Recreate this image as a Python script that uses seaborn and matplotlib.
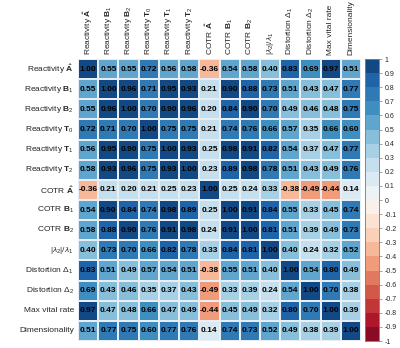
import numpy as np
import pandas as pd
import matplotlib
matplotlib.use("Agg")
import matplotlib.pyplot as plt
import seaborn as sns
from matplotlib.colors import ListedColormap

labels = [
    r"Reactivity $\mathbf{\hat{A}}$",
    r"Reactivity $\mathbf{B}_1$",
    r"Reactivity $\mathbf{B}_2$",
    r"Reactivity $\mathbf{T}_0$",
    r"Reactivity $\mathbf{T}_1$",
    r"Reactivity $\mathbf{T}_2$",
    r"COTR $\mathbf{\hat{A}}$",
    r"COTR $\mathbf{B}_1$",
    r"COTR $\mathbf{B}_2$",
    r"$|\lambda_2|/\lambda_1$",
    r"Distortion $\Delta_1$",
    r"Distortion $\Delta_2$",
    "Max vital rate",
    "Dimensionality",
]

r_A   = [1.00, 0.55, 0.55, 0.72, 0.56, 0.58, -0.36, 0.54, 0.58, 0.40, 0.83, 0.69, 0.97, 0.51]
r_B1  = [0.55, 1.00, 0.96, 0.71, 0.95, 0.93, 0.21, 0.90, 0.88, 0.73, 0.51, 0.43, 0.47, 0.77]
r_B2  = [0.55, 0.96, 1.00, 0.70, 0.90, 0.96, 0.20, 0.84, 0.90, 0.70, 0.49, 0.46, 0.48, 0.75]
r_T0  = [0.72, 0.71, 0.70, 1.00, 0.75, 0.75, 0.21, 0.74, 0.76, 0.66, 0.57, 0.35, 0.66, 0.60]
r_T1  = [0.56, 0.95, 0.90, 0.75, 1.00, 0.93, 0.25, 0.98, 0.91, 0.82, 0.54, 0.37, 0.47, 0.77]
r_T2  = [0.58, 0.93, 0.96, 0.75, 0.93, 1.00, 0.23, 0.89, 0.98, 0.78, 0.51, 0.43, 0.49, 0.76]
c_A   = [-0.36, 0.21, 0.20, 0.21, 0.25, 0.23, 1.00, 0.25, 0.24, 0.33, -0.38, -0.49, -0.44, 0.14]
c_B1  = [0.54, 0.90, 0.84, 0.74, 0.98, 0.89, 0.25, 1.00, 0.91, 0.84, 0.55, 0.33, 0.45, 0.74]
c_B2  = [0.58, 0.88, 0.90, 0.76, 0.91, 0.98, 0.24, 0.91, 1.00, 0.81, 0.51, 0.39, 0.49, 0.73]
lam   = [0.40, 0.73, 0.70, 0.66, 0.82, 0.78, 0.33, 0.84, 0.81, 1.00, 0.40, 0.24, 0.32, 0.52]
dist1 = [0.83, 0.51, 0.49, 0.57, 0.54, 0.51, -0.38, 0.55, 0.51, 0.40, 1.00, 0.54, 0.80, 0.49]
dist2 = [0.69, 0.43, 0.46, 0.35, 0.37, 0.43, -0.49, 0.33, 0.39, 0.24, 0.54, 1.00, 0.70, 0.38]
maxv  = [0.97, 0.47, 0.48, 0.66, 0.47, 0.49, -0.44, 0.45, 0.49, 0.32, 0.80, 0.70, 1.00, 0.39]
dimen = [0.51, 0.77, 0.75, 0.60, 0.77, 0.76, 0.14, 0.74, 0.73, 0.52, 0.49, 0.38, 0.39, 1.00]

cbar_ticks = [1, 0.9, 0.8, 0.7, 0.6, 0.5, 0.4, 0.3, 0.2, 0.1, 0,
              -0.1, -0.2, -0.3, -0.4, -0.5, -0.6, -0.7, -0.8, -0.9, -1]

rows = [r_A, r_B1, r_B2, r_T0, r_T1, r_T2, c_A, c_B1, c_B2, lam, dist1, dist2, maxv, dimen]
df = pd.DataFrame(rows, index=labels, columns=labels)

sns.set_theme(style="white")
plt.rcParams['font.family'] = ['Liberation Sans', 'DejaVu Sans']
plt.rcParams['mathtext.fontset'] = 'custom'
plt.rcParams['mathtext.rm'] = 'Liberation Sans'
plt.rcParams['mathtext.it'] = 'Liberation Sans:italic'
plt.rcParams['mathtext.bf'] = 'Liberation Sans:bold'

cmap = ListedColormap(sns.color_palette("RdBu", 20))

fig = plt.figure(figsize=(4.0, 3.48), dpi=100)
ax = fig.add_axes([78/400, 1 - 341/348, 283/400, 282/348])
cax = fig.add_axes([365/400, 1 - 341/348, 14/400, 282/348])

sns.heatmap(df, ax=ax, cmap=cmap, vmin=-1, vmax=1, annot=True, fmt=".2f",
            annot_kws={"fontsize": 6, "fontweight": "bold", "color": "black"},
            linewidths=0.1, linecolor="#e8eef5", cbar_ax=cax, square=False,
            cbar_kws={"ticks": cbar_ticks})

ax.xaxis.tick_top()
ax.set_xticklabels(labels, rotation=90, fontsize=6, ha="center", va="bottom")
ax.set_yticklabels(labels, rotation=0, fontsize=6)
ax.tick_params(length=0, pad=3)
ax.set_xlabel("")
ax.set_ylabel("")

cax.set_yticklabels([f"{t:g}" for t in cbar_ticks])
cax.tick_params(labelsize=5, length=2, width=0.5, color="gray", pad=2)
for s in cax.spines.values():
    s.set_visible(True)
    s.set_edgecolor("gray")
    s.set_linewidth(0.5)

fig.savefig("out.png", dpi=100)
